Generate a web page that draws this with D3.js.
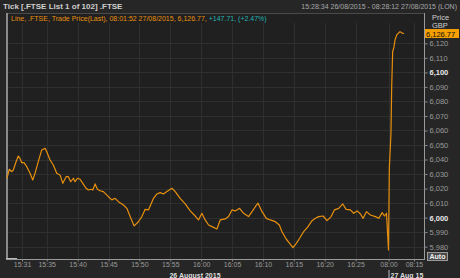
<!DOCTYPE html>
<html lang="en">
<head>
<meta charset="UTF-8">
<title>.FTSE tick chart</title>
<script src="https://d3js.org/d3.v7.min.js"></script>
<style>
  html, body { margin: 0; padding: 0; background: #262626; }
  svg { display: block; }
  text { font-family: "Liberation Sans", Arial, sans-serif; }
</style>
</head>
<body>
<svg width="460" height="278"></svg>
<script>
// Trading days
const days = ["2015-08-26", "2015-08-27"];

// 26 Aug afternoon session
const day1Times = [
  "15:28:34","15:28:56","15:29:20","15:29:35","15:30:02","15:30:24","15:30:40","15:30:57",
  "15:31:19","15:31:46","15:32:18","15:32:44","15:33:06","15:33:38","15:34:11","15:34:44",
  "15:35:00","15:35:32","15:36:04","15:36:37","15:37:09","15:37:36","15:38:08","15:38:30",
  "15:38:53","15:39:19","15:39:35","15:39:58","15:40:24","15:40:50","15:41:22","15:41:45",
  "15:42:08","15:42:27","15:42:50","15:43:12","15:43:38","15:44:10","15:44:59","15:45:32",
  "15:46:04","15:46:36","15:47:25","15:47:58","15:48:37","15:49:09","15:49:48","15:50:24",
  "15:50:56","15:51:28","15:52:17","15:52:50","15:53:22","15:53:54","15:54:27","15:55:16",
  "15:55:48","15:56:36","15:57:25","15:58:14","15:59:02","15:59:34","16:00:07","16:00:39",
  "16:01:12","16:01:45","16:02:33","16:03:05","16:03:54","16:04:26","16:04:59","16:05:31",
  "16:06:13","16:06:52","16:07:40","16:08:14","16:08:46","16:09:12","16:09:51","16:10:33",
  "16:11:11","16:12:00","16:12:39","16:13:05","16:13:47","16:14:19","16:14:52","16:15:24",
  "16:15:56","16:16:35","16:17:14","16:17:57","16:18:29","16:19:01","16:19:44","16:20:23",
  "16:21:02","16:21:34","16:22:16","16:22:55","16:23:28","16:24:09","16:24:41","16:25:15",
  "16:25:47","16:26:13","16:26:45","16:27:24","16:28:12","16:28:45","16:29:18","16:29:40",
  "16:30:00"
];
const day1Prices = [
  6027.1,6033.3,6031.6,6032.8,6038.5,6042.4,6040.8,6037.8,
  6037.8,6035.1,6030.5,6025.9,6030.5,6038.5,6046.6,6047.7,
  6045.4,6039.7,6036.2,6030.5,6029.4,6023.6,6028.2,6028.2,
  6024.7,6027.1,6024.7,6027.1,6026.4,6023.6,6020.2,6019.0,
  6019.5,6019.0,6023.2,6019.5,6018.5,6017.9,6014.4,6012.2,
  6013.3,6011.0,6008.7,6006.4,5999.5,5994.3,5997.0,6000.7,
  6005.7,6005.3,6013.3,6016.3,6017.2,6016.3,6017.9,6020.2,
  6017.9,6013.3,6009.4,6004.6,6001.1,5998.4,6003.0,5998.4,
  5994.9,5993.8,5992.2,5998.4,5999.1,6000.7,6005.3,6004.6,
  6006.4,6003.0,6000.7,6004.1,6007.5,6009.9,6004.1,5999.5,
  5998.4,5997.2,5994.9,5990.3,5985.1,5982.3,5979.3,5982.3,
  5985.8,5990.3,5993.4,5997.9,5999.5,6000.7,6001.1,5997.9,
  6000.7,6005.3,6006.4,6009.4,6005.7,6005.3,6003.0,6004.6,
  6002.5,5999.5,6004.1,6001.8,6000.7,5999.5,6003.4,6001.1,
  6003.0
];

// 27 Aug opening
const day2Times = [
  "08:00:00","08:00:06","08:00:18","08:00:23","08:00:30","08:00:40","08:00:47",
  "08:00:59","08:01:10","08:01:23","08:01:35","08:01:46","08:01:52"
];
const day2Prices = [
  5977.7,6034.0,6058.3,6090.1,6114.2,6117.7,6122.3,
  6125.7,6126.9,6128.0,6127.3,6126.9,6126.77
];

// Axis ticks
const yTicks = [5980,5990,6000,6010,6020,6030,6040,6050,6060,6070,6080,6090,6100,6110,6120];
const boldYTicks = [6000, 6100];
const day1TickLabels = ["15:31","15:35","15:40","15:45","15:50","15:55","16:00","16:05","16:10","16:15","16:20","16:25"];
const day2TickLabels = ["08:00","08:15"];

// Window of the chart: first trade to end of range, with the overnight gap squeezed
const windowStops = ["2015-08-26 15:28:34","2015-08-26 16:30:00","2015-08-27 08:00:00","2015-08-27 08:01:52","2015-08-27 08:28:12"];
const lastPrice = 6126.77, netChange = 147.71, pctChange = 2.47;

const parse = d3.timeParse("%Y-%m-%d %H:%M:%S");
const parseTick = d3.timeParse("%Y-%m-%d %H:%M");

const data = day1Times.map((t, i) => ({ t: parse(days[0] + " " + t), v: day1Prices[i] }))
  .concat(day2Times.map((t, i) => ({ t: parse(days[1] + " " + t), v: day2Prices[i] })));

const svg = d3.select("svg");
const W = 460, H = 278;
const plot = { left: 6, right: 424, top: 13, bottom: 259 };

// polylinear time scale so the overnight break takes almost no room
const x = d3.scaleTime()
  .domain(windowStops.map(parse))
  .range([7, 386.5, 388.5, 404, plot.right]);

const y = d3.scaleLinear()
  .domain([5971.5, 6140.9])
  .range([plot.bottom, plot.top]);

const xTicks = day1TickLabels.map(s => parseTick(days[0] + " " + s))
  .concat(day2TickLabels.map(s => parseTick(days[1] + " " + s)));

// background
svg.append("rect").attr("width", W).attr("height", H).attr("fill", "#262626");
svg.append("rect")
  .attr("x", plot.left).attr("y", plot.top)
  .attr("width", plot.right - plot.left).attr("height", plot.bottom - plot.top)
  .attr("fill", "#202020");

// grid
const grid = svg.append("g");
grid.selectAll("line.h").data(yTicks).enter().append("line")
  .attr("x1", plot.left).attr("x2", plot.right)
  .attr("y1", d => Math.round(y(d)) + 0.5).attr("y2", d => Math.round(y(d)) + 0.5)
  .attr("stroke", "#2f2f2f");
grid.selectAll("line.v").data(xTicks).enter().append("line")
  .attr("y1", plot.top + 10).attr("y2", plot.bottom)
  .attr("x1", d => Math.round(x(d)) + 0.5).attr("x2", d => Math.round(x(d)) + 0.5)
  .attr("stroke", "#2f2f2f");

// frame
svg.append("line").attr("x1", plot.left).attr("x2", plot.right).attr("y1", plot.top + 0.5).attr("y2", plot.top + 0.5).attr("stroke", "#4a4a4a");
svg.append("line").attr("x1", plot.right + 0.5).attr("x2", plot.right + 0.5).attr("y1", plot.top).attr("y2", plot.bottom).attr("stroke", "#9a9a9a");
svg.append("line").attr("x1", plot.left).attr("x2", plot.right + 1).attr("y1", plot.bottom + 0.5).attr("y2", plot.bottom + 0.5).attr("stroke", "#9a9a9a");
svg.append("line").attr("x1", plot.left + 1).attr("x2", plot.left + 1).attr("y1", plot.top).attr("y2", plot.bottom).attr("stroke", "#8a8a8a").attr("stroke-width", 2);
svg.append("line").attr("x1", plot.left).attr("x2", 17).attr("y1", plot.bottom - 0.5).attr("y2", plot.bottom - 0.5).attr("stroke", "#bbbbbb");

// price line
svg.append("path")
  .datum(data)
  .attr("fill", "none")
  .attr("stroke", "#e8900e")
  .attr("stroke-width", 1.2)
  .attr("stroke-linejoin", "round")
  .attr("d", d3.line().x(d => x(d.t)).y(d => y(d.v)));

// y axis
const yAxis = svg.append("g")
  .attr("transform", `translate(${plot.right + 0.5},0)`)
  .call(d3.axisRight(y).tickValues(yTicks).tickSize(3).tickPadding(2).tickFormat(d3.format(",")));
yAxis.select(".domain").remove();
yAxis.selectAll("line").attr("stroke", "#888");
yAxis.selectAll("text")
  .attr("fill", d => boldYTicks.includes(d) ? "#e8e8e8" : "#9a9a9a")
  .attr("font-weight", d => boldYTicks.includes(d) ? "bold" : "normal")
  .style("font-size", "7.5px");

// x axis
const xAxis = svg.append("g")
  .attr("transform", `translate(0,${plot.bottom + 0.5})`)
  .call(d3.axisBottom(x).tickValues(xTicks).tickSize(2).tickPadding(1).tickFormat(d3.timeFormat("%H:%M")));
xAxis.select(".domain").remove();
xAxis.selectAll("line").attr("stroke", "#888");
xAxis.selectAll("text").attr("fill", "#9a9a9a").style("font-size", "7px");

// date labels
svg.append("text").attr("x", 195).attr("y", 277.5).attr("text-anchor", "middle")
  .attr("fill", "#dcdcdc").attr("font-weight", "bold").style("font-size", "7px")
  .text("26 August 2015");
svg.append("line").attr("x1", x(parseTick(days[1] + " 08:00")) + 0.5).attr("x2", x(parseTick(days[1] + " 08:00")) + 0.5)
  .attr("y1", 270).attr("y2", 278).attr("stroke", "#bbbbbb");
svg.append("text").attr("x", x(parseTick(days[1] + " 08:00")) + 2).attr("y", 277.5)
  .attr("fill", "#dcdcdc").attr("font-weight", "bold").style("font-size", "7px")
  .text("27 Aug 15");

// headers
svg.append("text").attr("x", 3).attr("y", 9)
  .attr("fill", "#cfcfcf").attr("font-weight", "bold").style("font-size", "8px")
  .text("Tick [.FTSE List 1 of 102] .FTSE");
svg.append("text").attr("x", 457).attr("y", 9).attr("text-anchor", "end")
  .attr("fill", "#a8a8a8").style("font-size", "7px")
  .text("15:28:34 26/08/2015 - 08:28:12 27/08/2015 (LON)");

const legend = svg.append("text").attr("x", 11).attr("y", 21).style("font-size", "7px");
legend.append("tspan").attr("fill", "#e8900e")
  .text(`Line, .FTSE, Trade Price(Last), 08:01:52 27/08/2015, ${d3.format(",.2f")(lastPrice)}, `);
legend.append("tspan").attr("fill", "#25b3b3")
  .text(`+${netChange}, (+${pctChange}%)`);

svg.append("text").attr("x", 432).attr("y", 20).attr("fill", "#cfcfcf").style("font-size", "7.5px").text("Price");
svg.append("text").attr("x", 432).attr("y", 28).attr("fill", "#cfcfcf").style("font-size", "7.5px").text("GBP");

// last price flag
svg.append("rect").attr("x", plot.right + 1).attr("y", y(lastPrice) - 4.5).attr("width", 34).attr("height", 9).attr("fill", "#f5a000");
svg.append("text").attr("x", plot.right + 2).attr("y", y(lastPrice) + 3)
  .attr("fill", "#111").style("font-size", "7.5px").text(d3.format(",.2f")(lastPrice));

// Auto button
svg.append("rect").attr("x", 427.5).attr("y", 252.5).attr("width", 20).attr("height", 8)
  .attr("fill", "#4a4a4a").attr("stroke", "#9a9a9a");
svg.append("text").attr("x", 437.5).attr("y", 259).attr("text-anchor", "middle")
  .attr("fill", "#f0f0f0").attr("font-weight", "bold").style("font-size", "7px").text("Auto");
</script>
</body>
</html>
